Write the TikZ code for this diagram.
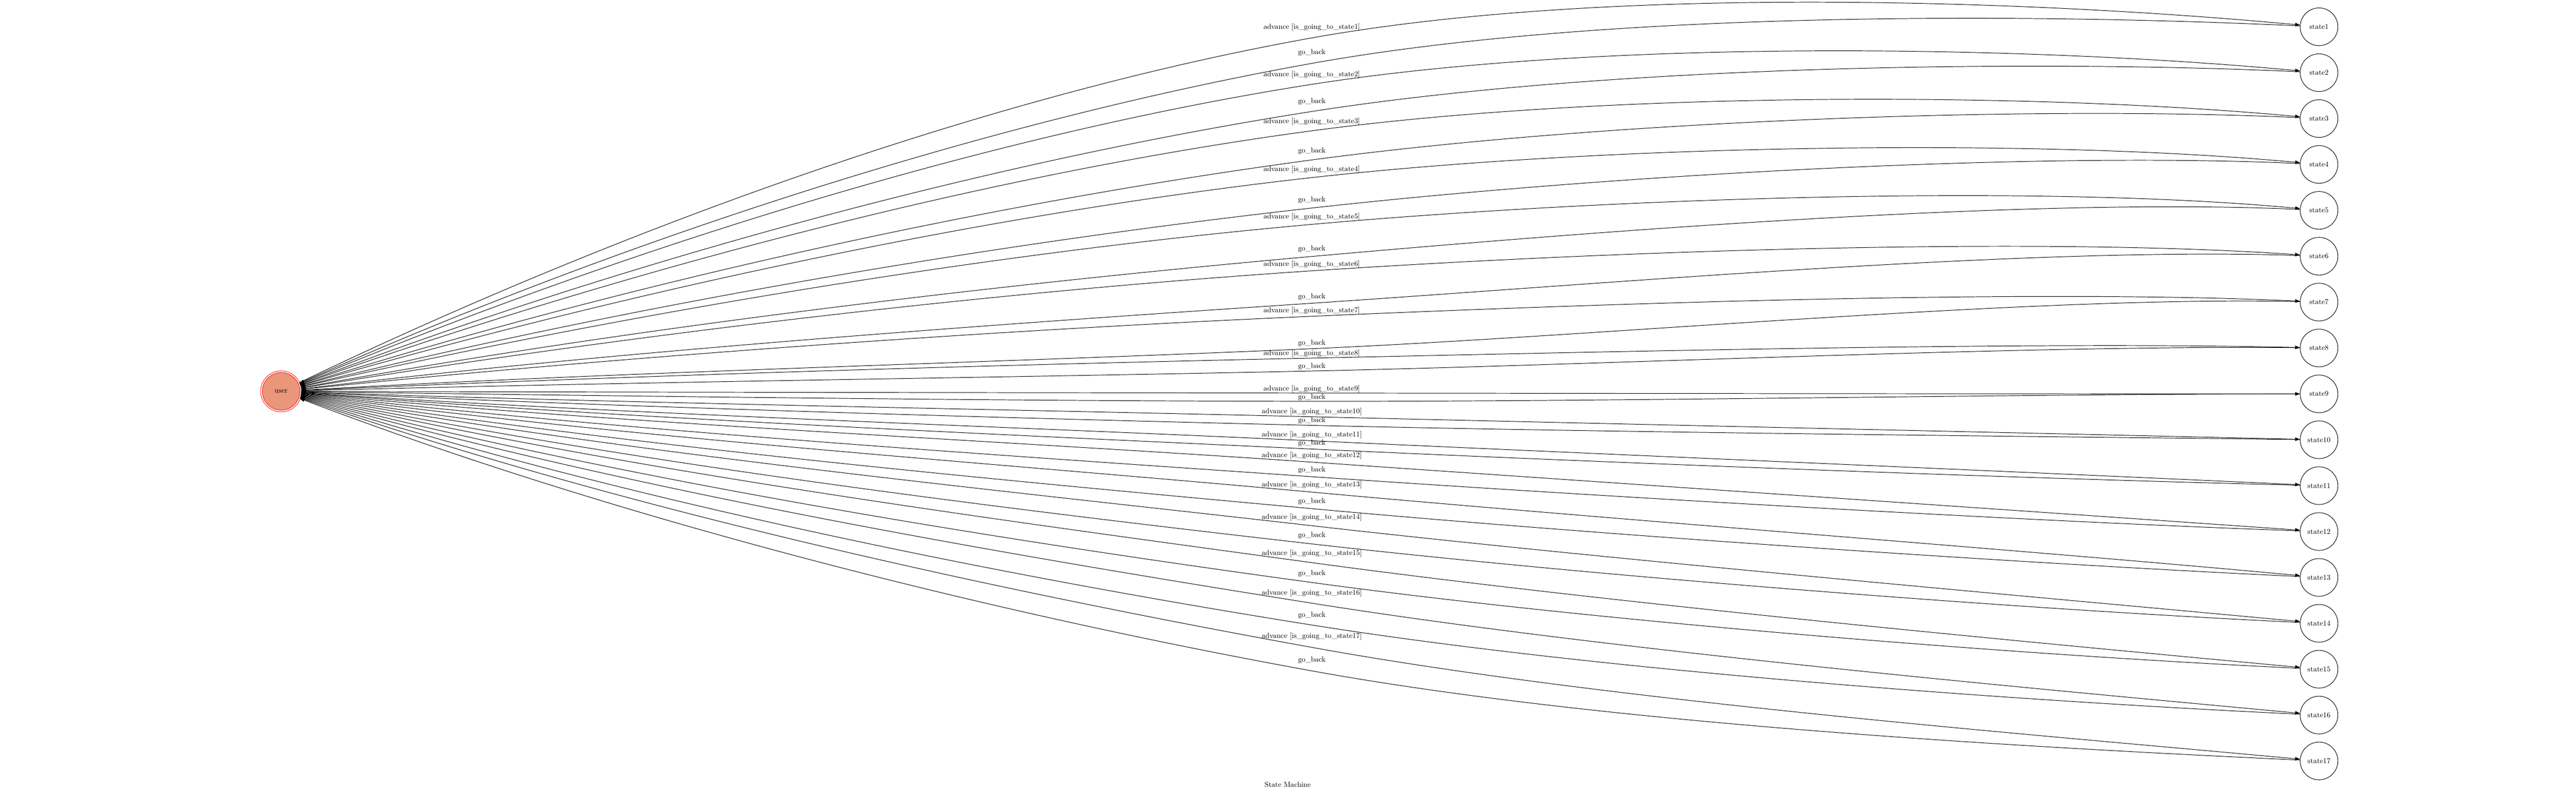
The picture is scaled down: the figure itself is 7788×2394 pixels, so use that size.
\documentclass[tikz,border=0pt]{standalone}
\usepackage{tikz}
\usetikzlibrary{arrows.meta}
\definecolor{usercol}{RGB}{233,150,122}

\begin{document}
\begin{tikzpicture}[x=0.45pt, y=-0.45pt, line width=0.68pt,
    state/.style={circle, draw, minimum size=51.3pt, inner sep=0pt},
    start/.style={circle, draw=red, fill=usercol, double=white, double distance=1.5pt, minimum size=53.5pt, inner sep=0pt},
    lbl/.style={inner sep=0pt},
    adv/.style={-{Triangle[length=6.5pt, width=4.8pt]}},
    back/.style={{Triangle[length=6.5pt, width=4.8pt]}-}]
	\useasboundingbox (0,0) rectangle (7788,2394);
	\node[start] (user) at (850,1183) {user};
	\foreach \k/\la/\lb in {1/82/159, 2/225/307, 3/368/456, 4/512/604, 5/656/753, 6/799/897,
	    7/939/1037, 8/1068/1107, 9/1176/1201, 10/1245/1271, 11/1315/1340, 12/1377/1421,
	    13/1465/1515, 14/1564/1619, 15/1673/1733, 16/1793/1859, 17/1924/1995}{
		\pgfmathsetmacro\ys{81+(\k-1)*138.7}
		\pgfmathsetmacro\m{(\ys-1183)/6161}
		\pgfmathsetmacro\f{min(1,abs(\k-9)/4)}
		\pgfmathsetmacro\va{\la+12+115*abs(\m)}
		\pgfmathsetmacro\vb{\lb+12+115*abs(\m)}
		\pgfmathsetmacro\ma{1.4*(\va-1183)/3116}
		\pgfmathsetmacro\mb{1.4*(\vb-1183)/3116}
		\node[state] (s\k) at (7011,\ys) {state\k};
		\node[lbl] (a\k) at (3966,\la) {advance [is\_going\_to\_state\k]};
		\node[lbl] (b\k) at (3966,\lb) {go\_back};
		\coordinate (va\k) at (3966,\va);
		\coordinate (vb\k) at (3966,\vb);
		\draw[adv] (user) .. controls (1850,{1183+1000*(\ma)}) and (2966,{\va-1000*(\m)}) .. (va\k)
			.. controls (4866,{\va+900*(\m)}) and (6154,{\ys-80*\f}) .. (s\k);
		\draw[back] (user) .. controls (1850,{1183+1000*(\mb)}) and (2966,{\vb-1000*(\m)}) .. (vb\k)
			.. controls (4866,{\vb+900*(\m)}) and (6154,{\ys-40*\f}) .. (s\k);
	}
	\node (title) at (3893,2371) {State Machine};
\end{tikzpicture}
\end{document}
